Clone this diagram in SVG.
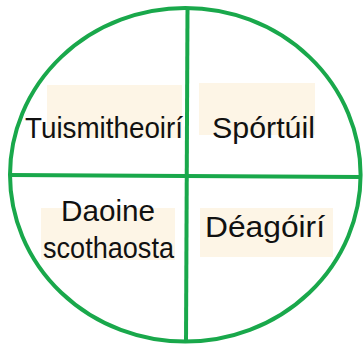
<svg xmlns="http://www.w3.org/2000/svg" width="364" height="345" viewBox="0 0 364 345">
<style>
.ln{fill:none;stroke:#19a84b;stroke-width:4}
.bx{fill:#fdf5e6}
.t{font-family:"Liberation Sans",Arial,sans-serif;font-size:29px;fill:#111}
</style>
<rect width="364" height="345" fill="#ffffff"/>
<g id="n-tuismitheoiri">
<rect class="bx" x="47" y="85" width="135" height="53"/>
<text class="t" x="25" y="138" textLength="158" lengthAdjust="spacingAndGlyphs">Tuismitheoirí</text>
</g>
<g id="n-sportuil">
<rect class="bx" x="199" y="83" width="116" height="52"/>
<text class="t" x="212" y="138" textLength="103" lengthAdjust="spacingAndGlyphs">Spórtúil</text>
</g>
<g id="n-daoine">
<rect class="bx" x="41" y="208" width="134" height="52"/>
<text class="t" x="61" y="221" textLength="94" lengthAdjust="spacingAndGlyphs">Daoine</text>
<text class="t" x="43" y="258" textLength="131" lengthAdjust="spacingAndGlyphs">scothaosta</text>
</g>
<g id="n-deagoiri">
<rect class="bx" x="200" y="208" width="133" height="49"/>
<text class="t" x="205" y="237" textLength="120" lengthAdjust="spacingAndGlyphs">Déagóirí</text>
</g>
<g id="connectors">
<ellipse class="ln" cx="185.3" cy="174.8" rx="175.3" ry="166.8"/>
<line class="ln" x1="187.5" y1="8" x2="186" y2="341.5"/>
<line class="ln" x1="10" y1="175" x2="360.5" y2="177"/>
</g>
</svg>
